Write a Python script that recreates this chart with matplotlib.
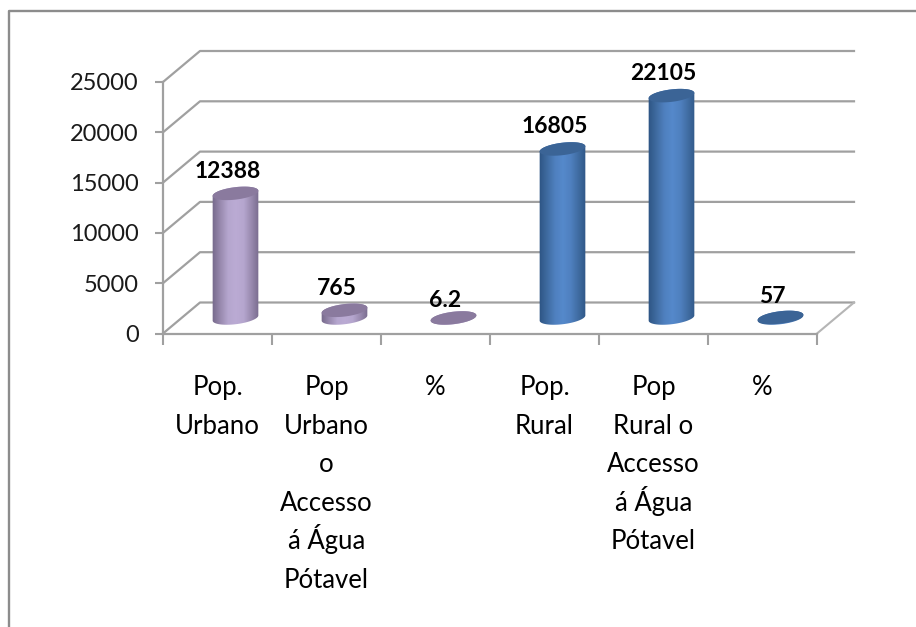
import numpy as np
import matplotlib
matplotlib.use('Agg')
import matplotlib.pyplot as plt
from matplotlib.colors import LinearSegmentedColormap
from matplotlib.patches import Polygon

# chart data
categories = ['Pop.\nUrbano', 'Pop\nUrbano\no\nAccesso\ná Água\nPótavel', '%',
              'Pop.\nRural', 'Pop\nRural o\nAccesso\ná Água\nPótavel', '%']
values = [12388, 765, 6.2, 16805, 22105, 57]
value_labels = ['12388', '765', '6.2', '16805', '22105', '57']
y_ticks = [0, 5000, 10000, 15000, 20000, 25000]

purple = ['#75688a', '#9788ad', '#b5a6ce', '#bbabd4', '#b5a6ce', '#9788ad', '#75688a']
purple_top = '#8a7a9e'
blue = ['#2d5483', '#3f6ba0', '#4f80bf', '#5589cb', '#4f80bf', '#3f6ba0', '#2d5483']
blue_top = '#3b6496'
bar_colors = [(purple, purple_top)] * 3 + [(blue, blue_top)] * 3

plt.rcParams['font.family'] = ['Lato', 'DejaVu Sans']

W, H = 916, 627
fig = plt.figure(figsize=(W / 100, H / 100), dpi=100, facecolor='white')

# front plane of the 3d box
left, right, bottom, top = 163, 817, 333.5, 82
ax = fig.add_axes([left / W, 1 - bottom / H, (right - left) / W, (bottom - top) / H])
ax.set_xlim(0, 6)
ax.set_ylim(0, 25000)
ax.patch.set_visible(False)

px_x = 6 / (right - left)
px_y = 25000 / (bottom - top)
depth_x, depth_y = 37 * px_x, 31 * px_y
grid_col = '#a0a0a0'

# back wall and the slanted lines
for v in y_ticks:
    ax.plot([0, depth_x, 6 + depth_x], [v, v + depth_y, v + depth_y],
            color=grid_col, lw=1.6, clip_on=False, zorder=1)
ax.plot([6, 6 + depth_x], [0, depth_y], color='#b5b5b5', lw=1.5, clip_on=False, zorder=1)

for s in ['top', 'right']:
    ax.spines[s].set_visible(False)
for s in ['left', 'bottom']:
    ax.spines[s].set_color(grid_col)
    ax.spines[s].set_linewidth(1.6)

ax.set_yticks(y_ticks)
ax.set_xticks(range(7))
ax.set_xticklabels([])
ax.tick_params(axis='y', length=5.5, width=1.5, color=grid_col, labelsize=17,
               labelcolor='#1a1a1a', pad=12)
ax.tick_params(axis='x', length=8, width=1.5, color=grid_col)

# category labels, one text per line so the line spacing stays even
first_base, line_gap = 395, 38.6
for i, cat in enumerate(categories):
    for k, line in enumerate(cat.split('\n')):
        ax.annotate(line, (i + 0.5, 0), xytext=(0, -(first_base + k * line_gap - bottom) * 0.72),
                    textcoords='offset points', ha='center', va='baseline',
                    fontsize=18.5, color='black', annotation_clip=False)


def ellipse(cx, cy, t):
    # tilted ellipse, sizes in pixels, returned in data units
    a, b, r = 23, 6.2, np.radians(7)
    xp = a * np.cos(t) * np.cos(r) - b * np.sin(t) * np.sin(r)
    yp = a * np.cos(t) * np.sin(r) + b * np.sin(t) * np.cos(r)
    return cx + xp * px_x, cy + yp * px_y


base_y = 15.5 * px_y
shift_x = 18 * px_x
label_dy = [-22, -22, -17, -22, -22, -21]

for i, val in enumerate(values):
    cols, top_col = bar_colors[i]
    cx = i + 0.5 + shift_x
    y0, y1 = base_y, base_y + val
    t_end = np.linspace(0, np.pi, 60)
    tx, ty = ellipse(cx, y1, t_end)
    bx, by = ellipse(cx, y0, t_end + np.pi)
    pts = np.column_stack([np.r_[tx, bx], np.r_[ty, by]])
    body = Polygon(pts, closed=True, transform=ax.transData, fc='none', ec='none')
    ax.add_patch(body)
    cmap = LinearSegmentedColormap.from_list('cyl', cols)
    grad = np.linspace(0, 1, 128).reshape(1, -1)
    half = 24 * px_x
    im = ax.imshow(grad, cmap=cmap, aspect='auto', zorder=3,
                   extent=[cx - half, cx + half, y0 - 10 * px_y, y1 + 10 * px_y])
    im.set_clip_path(body)
    ex, ey = ellipse(cx, y1, np.linspace(0, 2 * np.pi, 90))
    ax.fill(ex, ey, color=top_col, lw=0, zorder=4)
    ax.annotate(value_labels[i], (cx, y1), xytext=(-8 * 0.72, -label_dy[i] * 0.72),
                textcoords='offset points', ha='center', va='center',
                fontsize=16.5, fontweight='bold', color='black', zorder=5,
                annotation_clip=False)

ax.set_xlim(0, 6)
ax.set_ylim(0, 25000)

# outer frame of the chart, open at the right and at the bottom
fig.add_artist(plt.Line2D([8.5 / W, 8.5 / W, 1], [0, 1 - 10.5 / H, 1 - 10.5 / H],
                          color='#8c8c8c', lw=1.7))

fig.savefig('out.png', dpi=100)
